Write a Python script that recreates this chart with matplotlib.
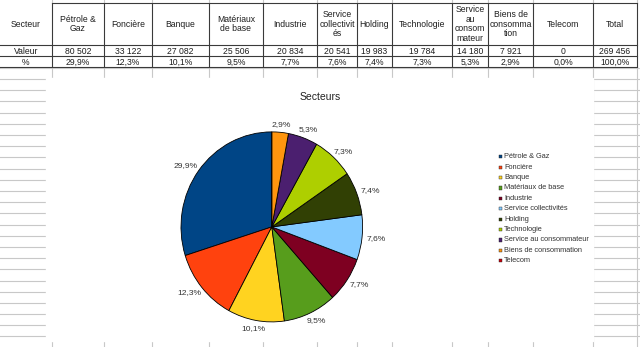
import numpy as np
import matplotlib.pyplot as plt
from matplotlib.patches import Rectangle

plt.rcParams['font.family'] = ['Liberation Sans', 'DejaVu Sans']

sectors = ["Pétrole & Gaz", "Foncière", "Banque", "Matériaux de base", "Industrie",
           "Service collectivités", "Holding", "Technologie",
           "Service au consommateur", "Biens de consommation", "Telecom"]
header_labels = ["Pétrole &\nGaz", "Foncière", "Banque", "Matériaux\nde base", "Industrie",
                 "Service\ncollectivit\nés", "Holding", "Technologie",
                 "Service\nau\nconsom\nmateur", "Biens de\nconsomma\ntion", "Telecom"]
values = [80502, 33122, 27082, 25506, 20834, 20541, 19983, 19784, 14180, 7921, 0]
total = 269456
colors = ["#004586", "#ff420e", "#ffd320", "#579d1c", "#7e0021", "#83caff",
          "#314004", "#aecf00", "#4b1f6f", "#ff950e", "#c5000b"]


def fmt_num(v):
    return f"{v:,}".replace(",", " ")


def fmt_pct(v):
    return f"{v / total * 100:.1f}%".replace(".", ",")


W, H = 640, 347
fig = plt.figure(figsize=(W / 100, H / 100), dpi=100)
bg = fig.add_axes([0, 0, 1, 1])
bg.set_xlim(0, W)
bg.set_ylim(H, 0)
bg.axis('off')

# spreadsheet layout (pixels)
col_edges = [0, 52, 104, 152, 209, 263, 317, 357, 392, 452, 488, 533, 593, 637]
row_top, head_bot, val_bot, pct_bot = 3, 45, 56, 67
grid_c = '#c8c8c8'
line_c = '#3a3a3a'
txt_c = '#1e1e1e'

# light grid
for x in col_edges[1:]:
    bg.plot([x, x], [0, H], color=grid_c, lw=0.8, zorder=1)
y = pct_bot + 0.9
while y < H:
    bg.plot([0, W], [y, y], color=grid_c, lw=0.8, zorder=1)
    y += 11.19

# white cover for the table and chart area
bg.add_patch(Rectangle((0, row_top), W, pct_bot - row_top, color='white', zorder=2))
bg.add_patch(Rectangle((46, 78), 547, 263, color='white', zorder=2))

# table lines
bg.plot([52, 637], [row_top, row_top], color=line_c, lw=0.8, zorder=3)
for yy in [head_bot, val_bot, pct_bot]:
    bg.plot([0, 637], [yy, yy], color=line_c, lw=0.8, zorder=3)
for x in col_edges[1:]:
    bg.plot([x, x], [row_top, pct_bot], color=line_c, lw=0.8, zorder=3)

# table text
centers = [(a + b) / 2 for a, b in zip(col_edges[:-1], col_edges[1:])]
heads = ["Secteur"] + header_labels + ["Total"]
vals = ["Valeur"] + [fmt_num(v) for v in values] + [fmt_num(total)]
pcts = ["%"] + [fmt_pct(v) for v in values] + [fmt_pct(total)]
for cx, h, v, p in zip(centers, heads, vals, pcts):
    bg.text(cx, (row_top + head_bot) / 2, h, ha='center', va='center', fontsize=6.2,
            color=txt_c, linespacing=1.1, zorder=4)
    bg.text(cx, (head_bot + val_bot) / 2 + 0.5, v, ha='center', va='center', fontsize=6.2,
            color=txt_c, zorder=4)
    bg.text(cx, (val_bot + pct_bot) / 2 + 0.5, p, ha='center', va='center', fontsize=6.2,
            color=txt_c, zorder=4)

# title
bg.text(320, 97, "Secteurs", ha='center', va='center', fontsize=7.5, color='#222', zorder=4)

# legend
for i, (name, c) in enumerate(zip(sectors, colors)):
    ly = 156.7 + 10.4 * i
    bg.add_patch(Rectangle((499, ly - 1.6), 3.2, 3.2, facecolor=c, edgecolor='#222',
                           lw=0.3, zorder=4))
    bg.text(504, ly, name, ha='left', va='center', fontsize=5.3, color='#333', zorder=4)

# pie (screenshot is slightly stretched vertically)
cx, cy, rx, ry = 271.8, 226.9, 90.8, 95.0
ax = fig.add_axes([(cx - 1.25 * rx) / W, (H - cy - 1.25 * ry) / H,
                   2.5 * rx / W, 2.5 * ry / H])
ax.patch.set_alpha(0)
wedges, _ = ax.pie(values, colors=colors, startangle=90, counterclock=True,
                   wedgeprops=dict(edgecolor='black', linewidth=0.6))
ax.set_aspect('auto')
ax.set_xlim(-1.25, 1.25)
ax.set_ylim(-1.25, 1.25)

# labels just outside the rim, box pushed outward like the spreadsheet does
labels = []
for w, v in zip(wedges, values):
    if v == 0:
        continue
    th = np.deg2rad((w.theta1 + w.theta2) / 2)
    t = ax.text(1.05 * np.cos(th), 1.05 * np.sin(th), fmt_pct(v), ha='center',
                va='center', fontsize=6.1, color='#333')
    labels.append((t, th))
fig.canvas.draw()
renderer = fig.canvas.get_renderer()
for t, th in labels:
    bb = t.get_window_extent(renderer)
    x0, y0 = t.get_position()
    t.set_position((x0 + np.cos(th) * bb.width / 2 / rx,
                    y0 + np.sin(th) * bb.height / 2 / ry))

fig.savefig("out.png", dpi=100)
